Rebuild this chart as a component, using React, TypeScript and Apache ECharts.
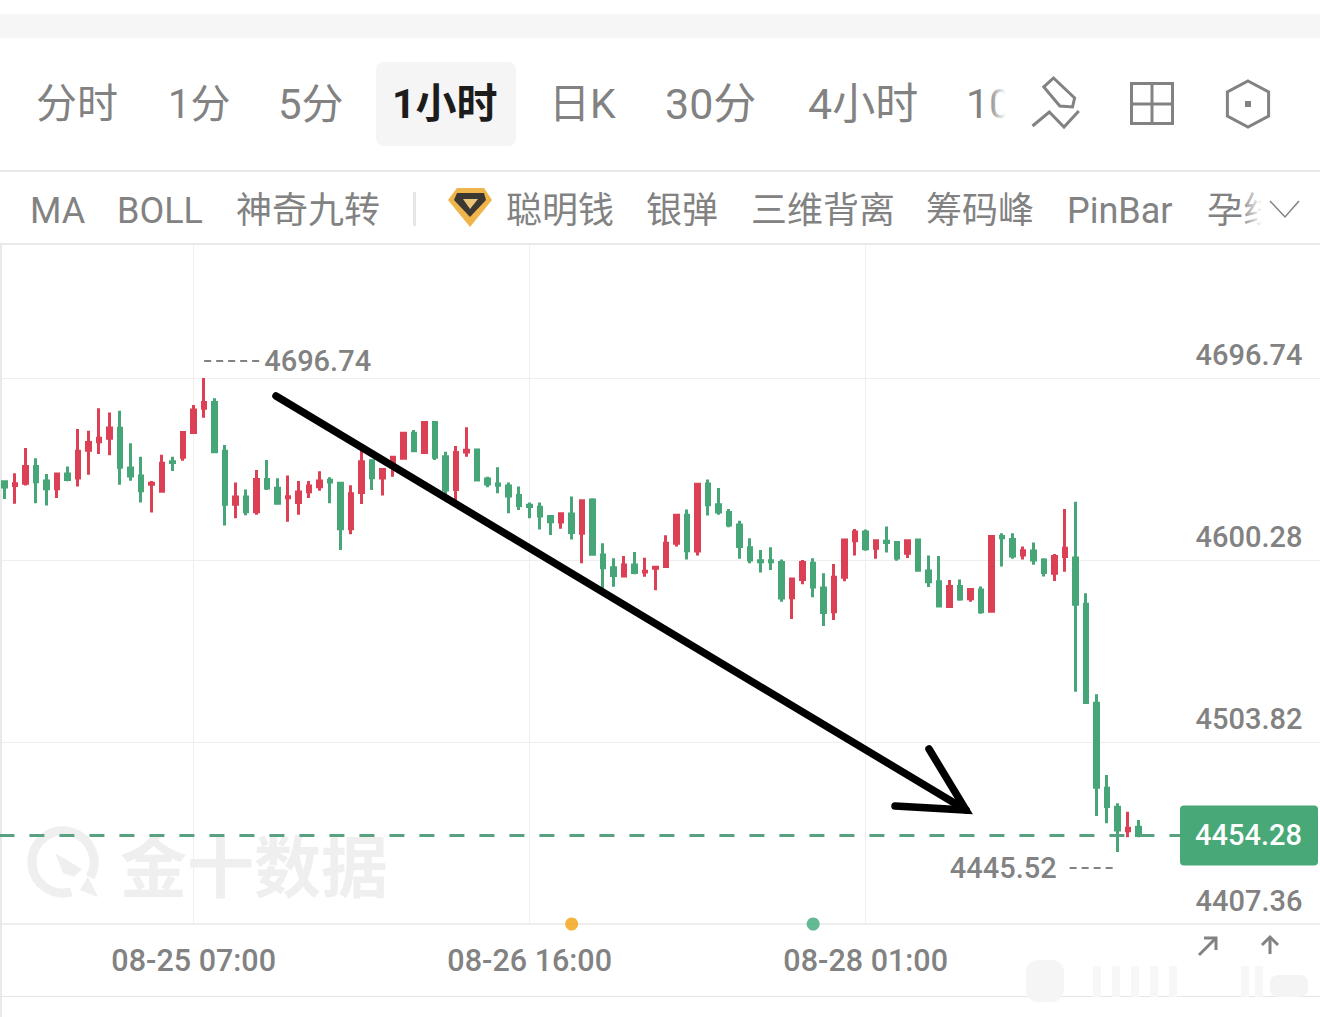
import React, { useEffect, useRef } from "react";
import * as echarts from "echarts";

const opens = [4641.8,4639.7,4640.9,4649.8,4642.2,4638.1,4645.9,4643.7,4658.4,4663.0,4664.8,4670.1,4649.0,4644.8,4640.4,4636.7,4652.4,4654.7,4667.9,4680.7,4683.8,4657.9,4629.8,4633.7,4625.9,4643.0,4638.3,4633.3,4630.7,4636.5,4639.1,4642.5,4640.9,4616.9,4636.1,4652.9,4643.7,4650.1,4654.2,4667.4,4657.2,4673.1,4655.0,4637.7,4657.5,4658.6,4643.2,4640.6,4639.5,4634.4,4629.3,4628.2,4623.3,4620.4,4624.7,4614.4,4632.1,4602.9,4596.2,4591.8,4597.6,4593.9,4595.9,4596.8,4609.1,4624.0,4605.1,4640.6,4629.6,4625.5,4618.8,4606.8,4599.9,4599.9,4598.9,4580.3,4590.0,4598.5,4585.4,4572.9,4591.1,4610.5,4615.1,4606.5,4610.2,4609.5,4603.8,4610.9,4594.5,4588.8,4575.7,4586.2,4579.8,4584.4,4573.1,4612.8,4611.2,4602.9,4605.1,4600.3,4593.2,4602.1,4601.3,4576.8,4524.3,4479.3,4469.2,4456.8,4458.6];
const closes = [4639.0,4640.7,4649.8,4641.8,4638.1,4645.9,4643.0,4657.9,4662.6,4664.8,4670.2,4649.4,4644.8,4637.0,4640.9,4651.5,4651.9,4667.8,4679.8,4683.8,4657.7,4629.8,4633.7,4625.9,4643.0,4638.4,4630.3,4633.8,4636.3,4639.5,4642.2,4641.6,4616.9,4635.4,4652.4,4643.9,4648.3,4654.7,4667.4,4658.2,4673.2,4654.7,4637.4,4657.3,4658.4,4642.7,4640.6,4639.9,4634.2,4629.1,4628.6,4623.6,4620.6,4624.8,4614.8,4631.7,4603.3,4596.2,4592.0,4597.6,4593.7,4594.3,4596.4,4609.1,4624.0,4605.2,4640.4,4629.6,4625.7,4618.8,4607.4,4600.3,4599.4,4599.4,4580.1,4590.2,4598.9,4586.0,4572.5,4591.1,4610.9,4615.1,4606.3,4610.5,4609.6,4601.3,4610.5,4594.8,4588.8,4575.9,4586.3,4579.6,4584.7,4572.9,4612.7,4612.1,4602.4,4605.2,4600.3,4593.6,4602.1,4606.5,4576.8,4524.8,4479.8,4469.6,4457.2,4458.1,4454.28];
const lows = [4632.6,4630.1,4639.7,4630.3,4629.1,4633.1,4642.0,4639.3,4645.5,4656.5,4655.8,4640.2,4642.3,4630.8,4625.4,4636.3,4647.5,4652.9,4667.4,4675.7,4656.8,4618.5,4622.4,4624.0,4624.3,4637.4,4630.0,4620.6,4624.3,4633.1,4637.0,4630.3,4605.6,4613.9,4630.0,4637.4,4634.4,4644.4,4653.6,4657.7,4656.5,4653.3,4635.3,4631.7,4655.0,4642.7,4638.8,4635.6,4625.0,4626.8,4622.4,4616.5,4613.5,4616.9,4611.2,4598.5,4602.9,4585.3,4586.1,4591.1,4592.7,4591.4,4584.2,4596.8,4607.4,4600.6,4602.6,4623.8,4624.3,4617.6,4601.0,4598.5,4593.7,4595.0,4578.2,4569.0,4587.4,4580.5,4565.3,4568.5,4589.0,4602.6,4605.2,4601.0,4604.3,4599.9,4601.3,4594.5,4586.0,4575.6,4575.2,4578.7,4578.2,4571.8,4572.5,4596.8,4601.0,4600.5,4597.8,4591.5,4589.2,4594.1,4530.5,4524.8,4464.6,4460.7,4445.52,4453.3,4453.3];
const highs = [4642.3,4646.2,4659.6,4654.2,4645.9,4645.9,4649.8,4669.7,4668.8,4680.7,4678.5,4679.4,4662.1,4655.0,4642.2,4656.1,4655.0,4668.3,4682.4,4696.74,4686.0,4661.2,4641.3,4637.7,4648.0,4653.3,4643.6,4645.0,4642.2,4642.2,4647.3,4644.1,4640.9,4639.9,4658.6,4652.9,4648.3,4654.7,4667.8,4669.2,4674.0,4673.4,4657.7,4660.7,4670.6,4658.6,4644.4,4649.4,4641.3,4639.2,4630.7,4630.8,4624.0,4624.8,4633.9,4631.7,4633.0,4609.1,4601.2,4602.4,4604.5,4601.5,4596.8,4613.4,4624.7,4627.1,4640.9,4643.0,4638.4,4627.3,4621.1,4611.8,4605.6,4607.0,4600.6,4590.2,4600.3,4601.2,4593.2,4598.2,4611.2,4616.7,4616.5,4611.2,4618.0,4609.5,4610.9,4611.2,4602.6,4602.4,4589.7,4590.0,4585.3,4586.2,4613.0,4614.4,4614.4,4607.4,4609.6,4601.2,4603.5,4627.3,4631.2,4582.6,4529.1,4486.3,4471.3,4466.9,4462.5];

const BAR_SLOTS = 126;
const timeLabels: Record<number, string> = { 18: "08-25 07:00", 50: "08-26 16:00", 82: "08-28 01:00" };
const priceTicks = [4407.36, 4503.82, 4600.28, 4696.74];
const lastPrice = 4454.28;
const highestPrice = 4696.74;
const highestIndex = 19;
const lowestPrice = 4445.52;
const lowestIndex = 106;
const eventIndexes = [54, 77];
const eventColors = ["#f0a30f", "#3fa97c"];
const periodLabels = ["分时", "1分", "5分", "日K", "30分", "4小时", "10"];
const periodX = [36, 168, 278, 549, 665, 808, 966];
const periodSize = [41, 40, 42, 41, 43, 43, 41];
const indicatorLabels = ["MA", "BOLL", "神奇九转", "聪明钱", "银弹", "三维背离", "筹码峰", "PinBar", "孕线"];
const indicatorX = [30, 117, 236, 506, 646, 751, 926, 1067, 1207];

const categories = Array.from({ length: BAR_SLOTS }, (_, i) => timeLabels[i] ?? "");
const candles = opens.map((o, i) => [o, closes[i], lows[i], highs[i]]);

const RED = "#dc4055";
const GREEN = "#47a678";
const GRAY = "#828282";
const LINE = "#eeeeee";
const FONT = "Roboto, 'Noto Sans CJK SC', sans-serif";
const NUM_FONT = "Roboto, sans-serif";

function label(text: string, x: number, y: number, size: number, extra: any = {}, z = 20) {
  return {
    type: "text", x, y, z,
    style: { text, fontSize: size, fontFamily: extra.fontFamily ?? FONT, fontWeight: extra.fontWeight ?? "normal",
      fill: extra.fill ?? GRAY, align: extra.align ?? "left", verticalAlign: "middle" },
  };
}
function poly(points: number[][], style: any, z = 20, closed = false) {
  return { type: closed ? "polygon" : "polyline", z, shape: { points }, style };
}
function fade(x: number, width: number, y: number, height: number) {
  return {
    type: "rect", z: 21, shape: { x, y, width, height },
    style: { fill: new echarts.graphic.LinearGradient(0, 0, 1, 0, [
      { offset: 0, color: "rgba(255,255,255,0)" }, { offset: 0.75, color: "rgba(255,255,255,1)" }, { offset: 1, color: "rgba(255,255,255,1)" },
    ]) },
  };
}

function chromeElements() {
  const iconStroke = { stroke: GRAY, fill: "none", lineWidth: 3 };
  const faintBars = [1093, 1112, 1131, 1150, 1169, 1241, 1255].map((x) => ({
    type: "rect", z: 5, shape: { x, y: 966, width: 8, height: 31 }, style: { fill: "#f7f7f7" },
  }));
  return [
    { type: "rect", z: 1, shape: { x: 0, y: 14, width: 1320, height: 24 }, style: { fill: "#f6f6f6" } },
    { type: "rect", z: 1, shape: { x: 376, y: 62, width: 140, height: 84, r: 8 }, style: { fill: "#f5f5f5" } },
    ...periodLabels.map((t, i) => label(t, periodX[i], 104, periodSize[i])),
    label("1小时", 392, 104, 41, { fill: "#1c1c1c", fontWeight: "bold" }),
    fade(988, 24, 80, 50),
    { type: "rect", z: 1, shape: { x: 0, y: 170, width: 1320, height: 2 }, style: { fill: "#e9e9e9" } },
    ...indicatorLabels.map((t, i) => label(t, indicatorX[i], 211, 36)),
    fade(1240, 30, 188, 44),
    { type: "rect", z: 22, shape: { x: 1262, y: 188, width: 50, height: 44 }, style: { fill: "#ffffff" } },
    poly([[1270, 201], [1285, 217], [1299, 201]], { stroke: GRAY, fill: "none", lineWidth: 1.5 }, 23),
    { type: "rect", z: 1, shape: { x: 413, y: 192, width: 3, height: 34 }, style: { fill: "#e6e6e6" } },
    poly([[457, 188], [484, 188], [492, 200], [470, 227], [448, 200]], { fill: "#efb54a" }, 20, true),
    poly([[457, 193], [484, 193], [486, 200], [470, 217], [454, 200]], { fill: "#3b3833" }, 21, true),
    poly([[463, 199], [478, 199], [470, 209]], { fill: "#e9c476" }, 22, true),
    { type: "rect", z: 1, shape: { x: 0, y: 243, width: 1320, height: 2 }, style: { fill: "#e9e9e9" } },
    { type: "rect", z: 1, shape: { x: 0, y: 245, width: 2, height: 772 }, style: { fill: "#e9e9e9" } },
    { type: "rect", z: 1, shape: { x: 0, y: 996, width: 1320, height: 1 }, style: { fill: "#e6e6e6" } },
    poly([[1053.5, 78], [1074.6, 98], [1072.5, 107], [1059.8, 106], [1043.8, 87]], iconStroke, 20, true),
    poly([[1032.5, 126], [1049.3, 112], [1064, 127], [1078.8, 111]], iconStroke),
    { type: "rect", z: 20, shape: { x: 1131.5, y: 83.5, width: 41, height: 40 }, style: iconStroke },
    { type: "line", z: 20, shape: { x1: 1152, y1: 84, x2: 1152, y2: 124 }, style: iconStroke },
    { type: "line", z: 20, shape: { x1: 1132, y1: 104, x2: 1172, y2: 104 }, style: iconStroke },
    poly([[1248, 81], [1268.6, 92], [1268.6, 116], [1248, 127], [1227.4, 116], [1227.4, 92]], iconStroke, 20, true),
    { type: "rect", z: 20, shape: { x: 1245, y: 101, width: 6, height: 6 }, style: { fill: GRAY } },
    poly([[1199, 955], [1216, 938]], { stroke: GRAY, fill: "none", lineWidth: 3 }),
    poly([[1204, 938], [1216, 938], [1216, 950]], { stroke: GRAY, fill: "none", lineWidth: 3 }),
    poly([[1270, 954], [1270, 937]], { stroke: GRAY, fill: "none", lineWidth: 3 }),
    poly([[1262, 945], [1270, 937], [1278, 945]], { stroke: GRAY, fill: "none", lineWidth: 3 }),
    { type: "arc", z: 1, shape: { cx: 63, cy: 862, r: 31, startAngle: 1.3, endAngle: 6.8 }, style: { stroke: "#efefef", fill: "none", lineWidth: 9 } },
    poly([[55, 853], [82, 869], [74, 877], [63, 873]], { fill: "#efefef" }, 1, true),
    poly([[88, 877], [98, 897], [80, 890]], { fill: "#efefef" }, 1, true),
    label("金十数据", 120, 862, 67, { fill: "#efefef", fontWeight: "bold", fontFamily: "'Noto Sans CJK SC', sans-serif" }, 1),
    { type: "rect", z: 5, shape: { x: 1026, y: 960, width: 38, height: 42, r: 12 }, style: { fill: "#f5f5f5" } },
    ...faintBars,
    { type: "rect", z: 5, shape: { x: 1270, y: 975, width: 38, height: 22, r: 8 }, style: { fill: "#f4f4f4" } },
  ];
}

function anchoredElements(chart: echarts.ECharts) {
  const lastY = chart.convertToPixel({ yAxisIndex: 0 }, lastPrice) as number;
  const highY = chart.convertToPixel({ yAxisIndex: 0 }, highestPrice) as number;
  const highX = chart.convertToPixel({ xAxisIndex: 0 }, highestIndex) as number;
  const lowY = chart.convertToPixel({ yAxisIndex: 0 }, lowestPrice) as number;
  const lowX = chart.convertToPixel({ xAxisIndex: 0 }, lowestIndex) as number;
  const dash = { stroke: GRAY, lineWidth: 2, lineDash: [7, 5] };
  const numWeight = { fontFamily: NUM_FONT, fontWeight: 500 };
  return [
    { type: "line", z: 30, shape: { x1: highX, y1: highY - 17, x2: highX + 56, y2: highY - 17 }, style: dash },
    label(highestPrice.toFixed(2), highX + 60, highY - 17, 29, numWeight, 30),
    { type: "line", z: 30, shape: { x1: lowX - 48, y1: lowY + 16, x2: lowX - 5, y2: lowY + 16 }, style: dash },
    label(lowestPrice.toFixed(2), lowX - 61, lowY + 16, 29, { ...numWeight, align: "right" }, 30),
    { type: "rect", z: 40, shape: { x: 1180, y: lastY - 30, width: 140, height: 60 }, style: { fill: "#ffffff" } },
    { type: "rect", z: 41, shape: { x: 1180, y: lastY - 30, width: 138, height: 60, r: 4 }, style: { fill: "#48a878" } },
    label(lastPrice.toFixed(2), 1302, lastY, 29, { ...numWeight, fill: "#ffffff", align: "right" }, 42),
    poly([[276, 396], [966, 810]], { stroke: "#000000", fill: "none", lineWidth: 7.5, lineCap: "round" }, 50),
    poly([[929, 749], [966, 810], [895, 806]], { stroke: "#000000", fill: "none", lineWidth: 7.5, lineCap: "round", lineJoin: "miter" }, 50),
  ];
}

export default function App() {
  const ref = useRef<HTMLDivElement>(null);
  useEffect(() => {
    document.body.style.margin = "0";
    const chart = echarts.init(ref.current!, null, { renderer: "svg" });
    chart.setOption({
      animation: false,
      backgroundColor: "#ffffff",
      grid: { left: -0.58, top: 245, width: 10.5 * BAR_SLOTS, height: 679, outerBoundsMode: "none", containLabel: false },
      xAxis: {
        type: "category",
        data: categories,
        boundaryGap: true,
        axisLine: { onZero: false, lineStyle: { color: LINE, width: 2 } },
        axisTick: { show: false, alignWithLabel: true },
        axisLabel: {
          interval: (_: number, v: string) => v !== "",
          color: GRAY, fontSize: 30.5, fontWeight: 500, fontFamily: NUM_FONT, margin: 21, hideOverlap: false,
        },
        splitLine: { show: true, alignWithLabel: true, interval: (_: number, v: string) => v !== "", lineStyle: { color: LINE, width: 1 } },
      },
      yAxis: {
        type: "value",
        position: "right",
        min: priceTicks[0],
        max: 4767.23,
        axisLine: { show: false },
        axisTick: { show: false, customValues: priceTicks },
        axisLabel: {
          inside: true, customValues: priceTicks, margin: 20, color: GRAY, fontSize: 29, fontWeight: 500, fontFamily: NUM_FONT,
          verticalAlign: "bottom", lineHeight: 46, align: "right",
          formatter: (v: number) => v.toFixed(2),
        },
        splitLine: { show: true, lineStyle: { color: LINE, width: 1 } },
      },
      series: [
        {
          type: "candlestick",
          data: candles,
          barWidth: 4,
          itemStyle: { color: RED, color0: GREEN, borderColor: RED, borderColor0: GREEN, borderWidth: 3 },
          markLine: {
            silent: true, symbol: "none", animation: false,
            label: { show: false },
            lineStyle: { type: [15, 15], color: "#5aa182", width: 3 },
            data: [{ yAxis: lastPrice }],
          },
        },
        {
          type: "scatter",
          clip: false,
          symbolSize: 13,
          z: 10,
          data: eventIndexes.map((idx, i) => ({ value: [idx, priceTicks[0]], itemStyle: { color: eventColors[i] } })),
        },
      ],
    });
    chart.setOption({ graphic: { elements: [...chromeElements(), ...anchoredElements(chart)] } });
    return () => chart.dispose();
  }, []);
  return <div ref={ref} style={{ position: "fixed", left: 0, top: 0, width: 1320, height: 1017 }} />;
}
